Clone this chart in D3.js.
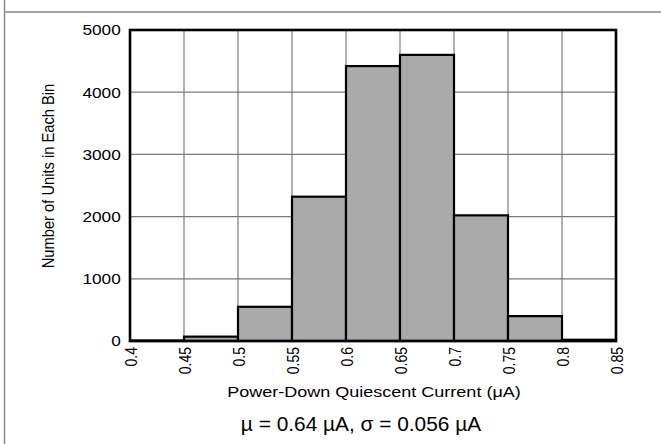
<!DOCTYPE html>
<html>
<head>
<meta charset="utf-8">
<script src="https://cdn.jsdelivr.net/npm/d3@7/dist/d3.min.js"></script>
<style>
  html, body { margin: 0; padding: 0; background: #fff; }
  svg { display: block; }
  text { font-family: "Liberation Sans", Arial, sans-serif; fill: #000; }
</style>
</head>
<body>
<svg id="chart" width="661" height="444"></svg>
<script>
// Data
const binEdges = [0.4, 0.45, 0.5, 0.55, 0.6, 0.65, 0.7, 0.75, 0.8, 0.85];
const binCounts = [8, 70, 550, 2320, 4420, 4600, 2020, 400, 20];
const xTickLabels = ["0.4", "0.45", "0.5", "0.55", "0.6", "0.65", "0.7", "0.75", "0.8", "0.85"];
const yTicks = [0, 1000, 2000, 3000, 4000, 5000];
const xTitle = "Power-Down Quiescent Current (\u03BCA)";
const yTitle = "Number of Units in Each Bin";
const statsText = "\u00B5 = 0.64 \u00B5A, \u03C3 = 0.056 \u00B5A";

const svg = d3.select("#chart");
const W = 661, H = 444;
const plot = { left: 130, right: 616, top: 30, bottom: 341 };
const SX = 1.23; // horizontal stretch of the reference lettering
const FONT = '"Liberation Sans", Arial, sans-serif';

// Outer frame lines
svg.append("line").attr("x1", 4.5).attr("x2", 4.5).attr("y1", 0).attr("y2", H)
  .attr("stroke", "#888").attr("stroke-width", 1.5);
svg.append("line").attr("x1", 4).attr("x2", W).attr("y1", 12).attr("y2", 12)
  .attr("stroke", "#888").attr("stroke-width", 1.5);

const x = d3.scaleLinear().domain([0.4, 0.85]).range([plot.left, plot.right]);
const y = d3.scaleLinear().domain([0, 5000]).range([plot.bottom, plot.top]);

// Gridlines
const g = svg.append("g");
g.selectAll("line.vg").data(binEdges.slice(1, -1)).enter().append("line")
  .attr("x1", d => x(d)).attr("x2", d => x(d))
  .attr("y1", plot.top).attr("y2", plot.bottom)
  .attr("stroke", "#7a7a7a").attr("stroke-width", 1.2);
g.selectAll("line.hg").data(yTicks.slice(1, -1)).enter().append("line")
  .attr("x1", plot.left).attr("x2", plot.right)
  .attr("y1", d => y(d)).attr("y2", d => y(d))
  .attr("stroke", "#7a7a7a").attr("stroke-width", 1.2);

// Bars
const bins = binCounts.map((c, i) => ({ x0: binEdges[i], x1: binEdges[i + 1], c }));
svg.append("g").selectAll("rect").data(bins).enter().append("rect")
  .attr("x", d => x(d.x0))
  .attr("width", d => x(d.x1) - x(d.x0))
  .attr("y", d => y(d.c))
  .attr("height", d => y(0) - y(d.c))
  .attr("fill", "#aaaaaa")
  .attr("stroke", "#000")
  .attr("stroke-width", 2.2);

// Plot frame
svg.append("rect")
  .attr("x", plot.left).attr("y", plot.top)
  .attr("width", plot.right - plot.left).attr("height", plot.bottom - plot.top)
  .attr("fill", "none").attr("stroke", "#000").attr("stroke-width", 2.6);

// Y axis labels
const yAxis = d3.axisLeft(y).tickValues(yTicks).tickSize(0).tickFormat(d3.format("d"));
const ya = svg.append("g").attr("transform", `translate(${plot.left},0)`).call(yAxis);
ya.select(".domain").remove();
ya.selectAll("text")
  .style("font-family", FONT).style("font-size", "14px").attr("fill", "#000")
  .attr("x", -7.5).attr("dy", "0.35em")
  .attr("transform", `scale(${SX},1)`);

// X axis labels (rotated)
const xAxis = d3.axisBottom(x).tickValues(binEdges).tickSize(0).tickFormat((d, i) => xTickLabels[i]);
const xa = svg.append("g").attr("transform", `translate(0,${plot.bottom})`).call(xAxis);
xa.select(".domain").remove();
xa.selectAll("text")
  .style("font-family", FONT).style("font-size", "14px").attr("fill", "#000")
  .attr("text-anchor", "end")
  .attr("x", 0).attr("y", 0).attr("dy", "0.35em")
  .attr("transform", `translate(0,6) scale(${SX},1) rotate(-90)`);

// Axis titles
svg.append("text")
  .attr("transform", `translate(374,397) scale(1.21,1)`)
  .attr("text-anchor", "middle").style("font-size", "14.9px").text(xTitle);
svg.append("text")
  .attr("transform", `translate(54,176) scale(1.15,1) rotate(-90)`)
  .attr("text-anchor", "middle").style("font-size", "14.7px").text(yTitle);

// Stats line
svg.append("text")
  .attr("transform", `translate(361,431) scale(1.07,1)`)
  .attr("text-anchor", "middle").style("font-size", "19.5px").text(statsText);
</script>
</body>
</html>
